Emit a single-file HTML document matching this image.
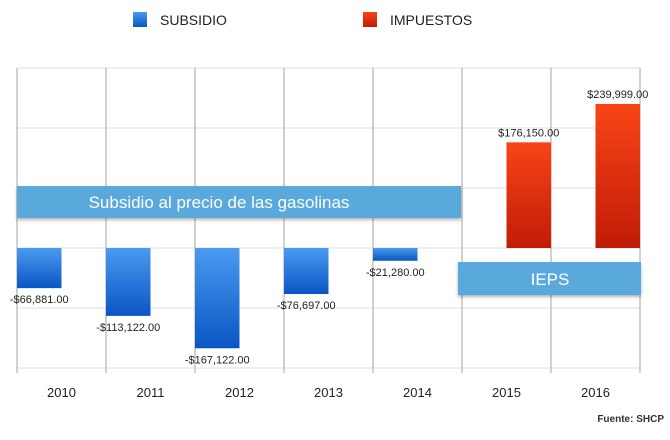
<!DOCTYPE html>
<html><head><meta charset="utf-8"><style>
body{margin:0;background:#fff;font-family:"Liberation Sans",sans-serif}
svg{display:block}
</style></head><body>
<svg width="670" height="440" xmlns="http://www.w3.org/2000/svg">
<defs>
<linearGradient id="gb" x1="0" y1="0" x2="0" y2="1"><stop offset="0" stop-color="#4a9bf0"/><stop offset="1" stop-color="#0a55c4"/></linearGradient>
<linearGradient id="gr" x1="0" y1="0" x2="0" y2="1"><stop offset="0" stop-color="#f84417"/><stop offset="1" stop-color="#c01c06"/></linearGradient>
<filter id="sh" x="-5%" y="-20%" width="110%" height="150%"><feDropShadow dx="0" dy="2" stdDeviation="1.5" flood-color="#000" flood-opacity="0.3"/></filter>
</defs>
<g id="grid"></g><g id="bars"></g><g id="labels"></g>
<g>
<rect x="133" y="12" width="14" height="15" fill="url(#gb)"/>
<text x="160" y="25" font-size="14" fill="#222">SUBSIDIO</text>
<rect x="363" y="12" width="14" height="15" fill="url(#gr)"/>
<text x="390" y="25" font-size="14" fill="#222">IMPUESTOS</text>
</g>
<g filter="url(#sh)">
<rect x="17" y="186" width="444" height="32" fill="#5aa9dc"/>
<rect x="458" y="262" width="183" height="33" fill="#5aa9dc"/>
</g>
<text x="219" y="208" font-size="17" fill="#fff" text-anchor="middle">Subsidio al precio de las gasolinas</text>
<text x="550" y="285" font-size="17" fill="#fff" text-anchor="middle">IEPS</text>
<text x="664" y="422" font-size="10" font-weight="bold" fill="#333" text-anchor="end">Fuente: SHCP</text>
</svg>
<script>
const categories=["2010","2011","2012","2013","2014","2015","2016"];
const subsidio=[-66881,-113122,-167122,-76697,-21280,null,null];
const impuestos=[null,null,null,null,null,176150,239999];
const yTicks=[300000,200000,100000,0,-100000,-200000];
const NS="http://www.w3.org/2000/svg";
const x0=17,cw=89,zeroY=248,pxPer=60/100000;
const xs=i=>x0+i*cw;
const y=v=>zeroY-v*pxPer;
function mk(t,a,p){const e=document.createElementNS(NS,t);for(const k in a)e.setAttribute(k,a[k]);p.appendChild(e);return e;}
const grid=document.getElementById('grid'),bars=document.getElementById('bars'),labels=document.getElementById('labels');
yTicks.forEach(v=>{const l=mk('line',{x1:x0,x2:xs(7),y1:y(v),y2:y(v),stroke:'#dcdcdc','stroke-width':1},grid);

});
for(let i=0;i<=7;i++){const l=mk('line',{x1:xs(i),x2:xs(i),y1:y(yTicks[0]),y2:y(yTicks[yTicks.length-1])+5,stroke:'#b8b8b8','stroke-width':1.3},grid);

}
const fmt=v=>(v<0?'-$':'$')+Math.abs(v).toLocaleString('en-US')+'.00';
categories.forEach((c,i)=>{
 const t=mk('text',{x:xs(i)+cw/2,y:397,'font-size':13,fill:'#222','text-anchor':'middle'},labels);t.textContent=c;
 
 
 [[subsidio,0,'url(#gb)','subsidio'],[impuestos,0.5,'url(#gr)','impuestos']].forEach(([arr,off,fill,nm])=>{
  const v=arr[i];if(v==null)return;
  const bx=xs(i)+off*cw,bw=cw/2;
  const top=Math.min(y(v),zeroY),h=Math.abs(y(v)-zeroY);
  const r=mk('rect',{x:bx,y:top,width:bw,height:h,fill:fill},bars);
  
  
  const ly=v<0?y(v)+15:y(v)-6;
  const tt=mk('text',{x:bx+bw/2,y:ly,'font-size':11,fill:'#222','text-anchor':'middle'},labels);tt.textContent=fmt(v);
  
  
 });
});
</script>
</body></html>
